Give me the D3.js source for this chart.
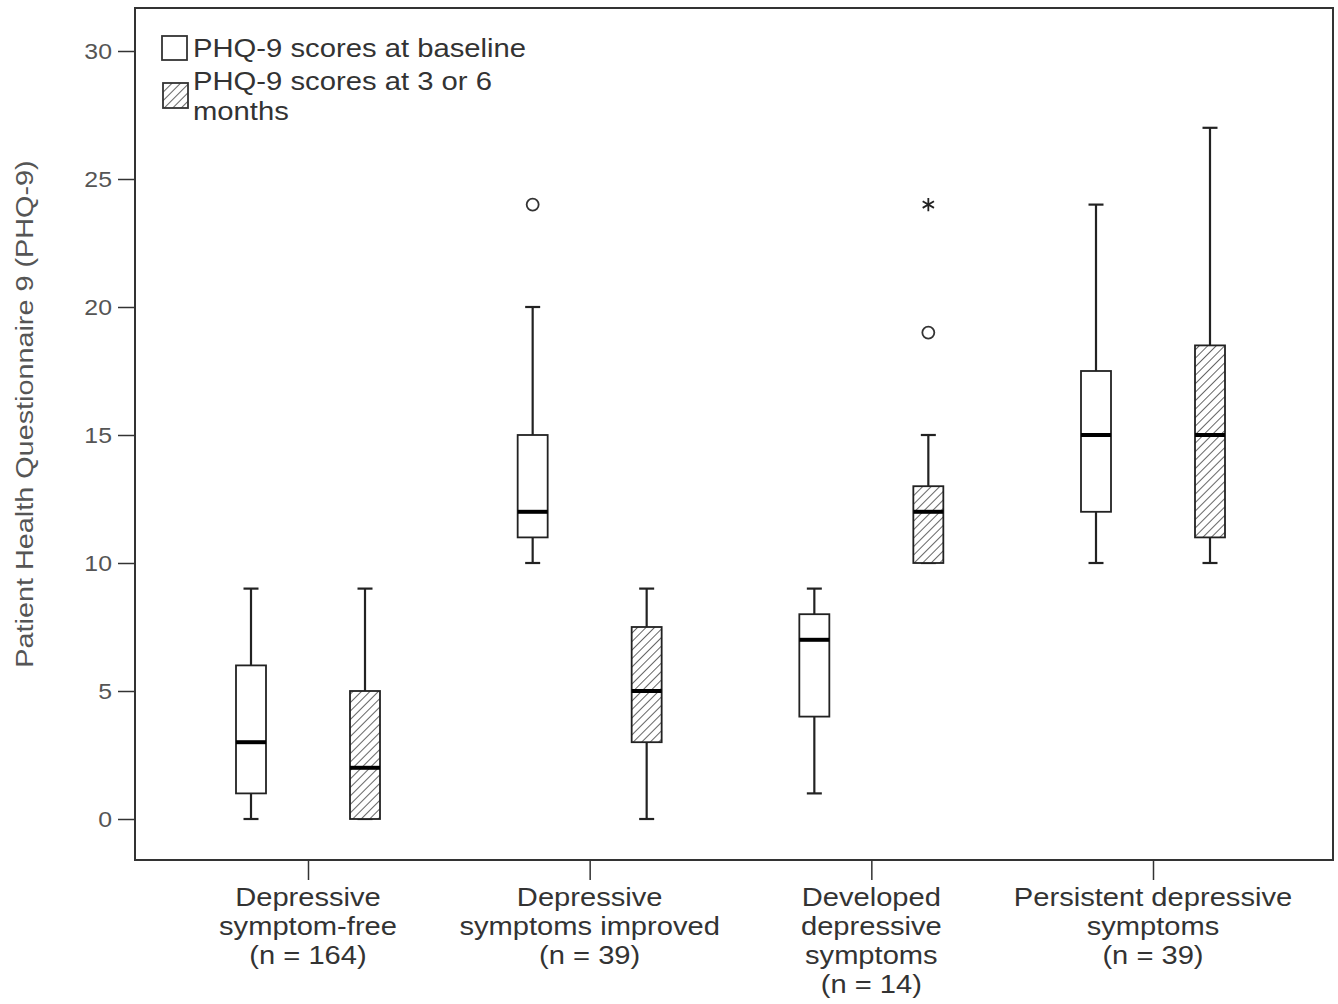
<!DOCTYPE html>
<html><head><meta charset="utf-8">
<script src="https://cdn.jsdelivr.net/npm/d3@7"></script>
<style>body{margin:0;background:#fff}svg{display:block}text{font-family:"Liberation Sans",Arial,sans-serif}</style>
</head><body><svg id="c" width="1338" height="1004"></svg>
<script>
const categories = [
  ["Depressive","symptom-free","(n = 164)"],
  ["Depressive","symptoms improved","(n = 39)"],
  ["Developed","depressive","symptoms","(n = 14)"],
  ["Persistent depressive","symptoms","(n = 39)"]
];
const seriesNames = ["PHQ-9 scores at baseline","PHQ-9 scores at 3 or 6 months"];
// [min, q1, median, q3, max] per category
const baselineStats = [[0,1,3,6,9],[10,11,12,15,20],[1,4,7,8,9],[10,12,15,17.5,24]];
const followupStats = [[0,0,2,5,9],[0,3,5,7.5,9],[10,10,12,13,15],[10,11,15,18.5,27]];
const outliers = [ // [category index, series index, value, type]
  [1,0,24,"circle"],[2,1,19,"circle"],[2,1,24,"star"]
];
const yTicks = [0,5,10,15,20,25,30];

const svg = d3.select("#c");
const L=135,T=8,R=1333,B=860;
const y = d3.scaleLinear().domain([0,30]).range([819,51]);
const x = d3.scalePoint().domain(d3.range(categories.length)).range([308,1153]);
const off = [-57,57];
const bw = 30, cap=15;

const defs = svg.append("defs");
const pat = defs.append("pattern").attr("id","hatch").attr("patternUnits","userSpaceOnUse")
  .attr("width",6).attr("height",6).attr("patternTransform","rotate(45)");
pat.append("rect").attr("width",6).attr("height",6).attr("fill","#fff");
pat.append("line").attr("x1",0).attr("y1",0).attr("x2",0).attr("y2",6).attr("stroke","#333").attr("stroke-width",1.5);

// frame
svg.append("rect").attr("x",L).attr("y",T).attr("width",R-L).attr("height",B-T)
  .attr("fill","none").attr("stroke","#333").attr("stroke-width",2);

// y axis
const sx = 1.13;
const ya = svg.append("g").attr("transform",`translate(${L},0)`).call(d3.axisLeft(y).tickValues(yTicks).tickSize(17).tickPadding(6));
ya.select(".domain").remove();
ya.selectAll("line").attr("stroke","#333").attr("stroke-width",1.5);
ya.selectAll("text").attr("font-size",22).attr("fill","#555").attr("font-family","Liberation Sans, Arial, sans-serif")
  .attr("x",-23/sx).attr("transform",`scale(${sx},1)`);

// x axis ticks
const xa = svg.append("g").attr("transform",`translate(0,${B})`).call(d3.axisBottom(x).tickSize(20).tickFormat(""));
xa.select(".domain").remove();
xa.selectAll("line").attr("stroke","#333").attr("stroke-width",1.5);
categories.forEach((lines,i)=>{
  const t = svg.append("text").attr("x",0).attr("y",906).attr("text-anchor","middle")
    .attr("font-size",25).attr("fill","#333").attr("transform",`translate(${x(i)},0) scale(1.165,1)`);
  lines.forEach((s,j)=>t.append("tspan").attr("x",0).attr("dy",j?29:0).text(s));
});

// y title
svg.append("text").attr("transform","translate(33,414) rotate(-90) scale(1.2,1)").attr("text-anchor","middle")
  .attr("font-size",24).attr("fill","#555").text("Patient Health Questionnaire 9 (PHQ-9)");

// boxes
[baselineStats, followupStats].forEach((stats,si)=>{
  stats.forEach((s,i)=>{
    const cx = x(i)+off[si];
    const g = svg.append("g");
    g.append("line").attr("x1",cx).attr("x2",cx).attr("y1",y(s[0])).attr("y2",y(s[1])).attr("stroke","#222").attr("stroke-width",2.2);
    g.append("line").attr("x1",cx).attr("x2",cx).attr("y1",y(s[3])).attr("y2",y(s[4])).attr("stroke","#222").attr("stroke-width",2.2);
    [s[0],s[4]].forEach(v=>g.append("line").attr("x1",cx-cap/2).attr("x2",cx+cap/2).attr("y1",y(v)).attr("y2",y(v)).attr("stroke","#222").attr("stroke-width",2.2));
    g.append("rect").attr("x",cx-bw/2).attr("width",bw).attr("y",y(s[3])).attr("height",y(s[1])-y(s[3]))
      .attr("fill",si?"url(#hatch)":"#fff").attr("stroke","#222").attr("stroke-width",1.8);
    g.append("line").attr("x1",cx-bw/2).attr("x2",cx+bw/2).attr("y1",y(s[2])).attr("y2",y(s[2])).attr("stroke","#000").attr("stroke-width",4);
  });
});
outliers.forEach(([ci,si,v,type])=>{
  const cx = x(ci)+off[si];
  if(type==="circle"){
    svg.append("circle").attr("cx",cx).attr("cy",y(v)).attr("r",6).attr("fill","none").attr("stroke","#333").attr("stroke-width",1.8);
  } else {
    svg.append("path").attr("d",d3.symbol(d3.symbolAsterisk,120)()).attr("transform",`translate(${cx},${y(v)})`)
      .attr("fill","none").attr("stroke","#222").attr("stroke-width",1.8);
  }
});

// legend
const lg = svg.append("g");
lg.append("rect").attr("x",162).attr("y",36).attr("width",25).attr("height",24).attr("fill","#fff").attr("stroke","#333").attr("stroke-width",1.8);
lg.append("rect").attr("x",163).attr("y",83).attr("width",25).attr("height",25).attr("fill","url(#hatch)").attr("stroke","#333").attr("stroke-width",1.8);
lg.append("text").attr("transform","translate(193,57) scale(1.125,1)").attr("font-size",26).attr("fill","#333").text(seriesNames[0]);
lg.append("text").attr("transform","translate(193,90) scale(1.125,1)").attr("font-size",26).attr("fill","#333").text("PHQ-9 scores at 3 or 6");
lg.append("text").attr("transform","translate(193,119.5) scale(1.125,1)").attr("font-size",26).attr("fill","#333").text("months");
</script></body></html>
